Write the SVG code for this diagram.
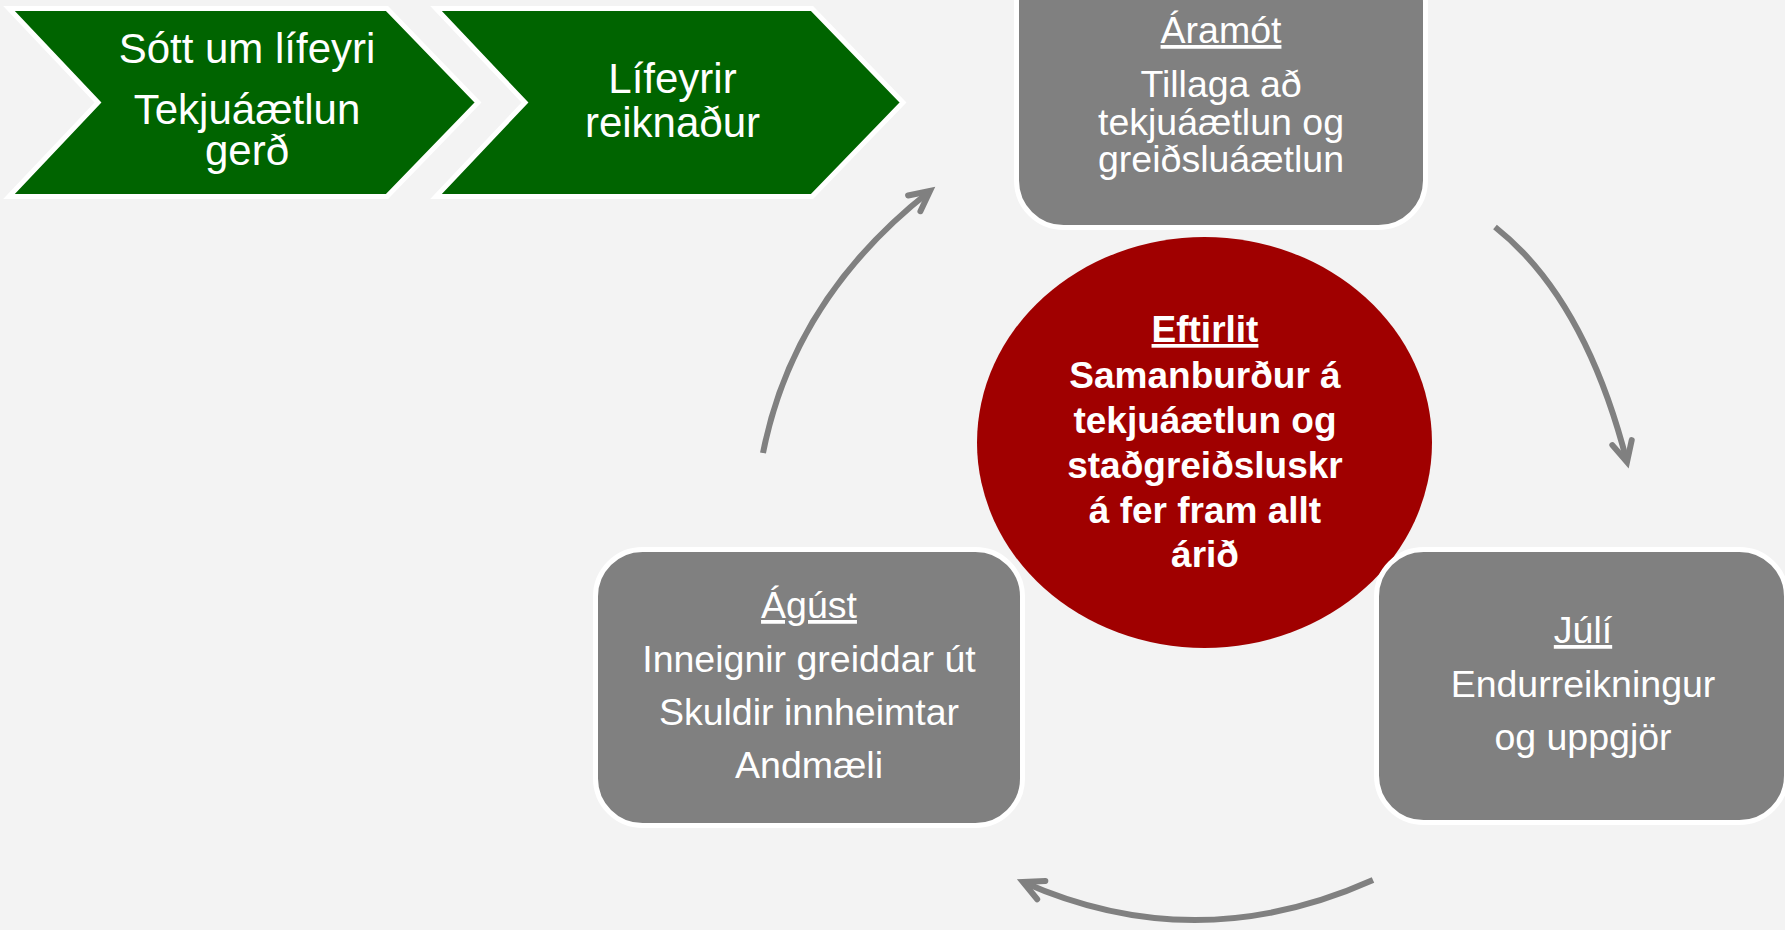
<svg xmlns="http://www.w3.org/2000/svg" width="1785" height="930" viewBox="0 0 1785 930">
  <style>
    text { font-family: "Liberation Sans", Arial, sans-serif; fill: #FFFFFF; text-anchor: middle; }
    .chev { fill: #006400; stroke: #FFFFFF; stroke-width: 5; stroke-linejoin: miter; }
    .box { fill: #808080; stroke: #FFFFFF; stroke-width: 5; }
    .ct { font-size: 42px; }
    .bt { font-size: 37.5px; }
    .ht { font-size: 37.5px; text-decoration: underline; }
    .circ { font-size: 37px; font-weight: bold; }
    .arc { fill: none; stroke: #808080; stroke-width: 6; marker-end: url(#ah); }
  </style>
  <defs>
    <marker id="ah" markerUnits="userSpaceOnUse" markerWidth="40" markerHeight="40" viewBox="-30 -20 40 40" refX="0" refY="0" orient="auto" overflow="visible">
      <path d="M-20,-10 L0,0 L-20,10" fill="none" stroke="#808080" stroke-width="6" stroke-linecap="round" stroke-linejoin="miter"/>
    </marker>
  </defs>
  <rect x="0" y="0" width="1785" height="930" fill="#F3F3F3"/>

  <g id="chevron-sott">
    <polygon class="chev" points="9,8.5 387,8.5 478,102.5 387,196.5 9,196.5 98,102.5"/>
    <text class="ct" x="247" y="63">Sótt um lífeyri</text>
    <text class="ct" x="247" y="124">Tekjuáætlun</text>
    <text class="ct" x="247" y="165">gerð</text>
  </g>

  <g id="chevron-lifeyrir">
    <polygon class="chev" points="436,8.5 812,8.5 903,102.5 812,196.5 436,196.5 525,102.5"/>
    <text class="ct" x="672.5" y="93">Lífeyrir</text>
    <text class="ct" x="672.5" y="137">reiknaður</text>
  </g>

  <g id="connectors">
    <path class="arc" d="M763,453 Q793.5,298 930,191"/>
    <path class="arc" d="M1495,227 Q1585,298 1627,462"/>
    <path class="arc" d="M1373,880 Q1196,959 1023,882"/>
  </g>

  <g id="node-aramot">
    <rect class="box" x="1016.5" y="-45" width="409" height="272.5" rx="47" ry="47"/>
    <text class="ht" x="1221" y="43">Áramót</text>
    <text class="bt" x="1221" y="97">Tillaga að</text>
    <text class="bt" x="1221" y="135">tekjuáætlun og</text>
    <text class="bt" x="1221" y="172">greiðsluáætlun</text>
  </g>

  <g id="node-eftirlit">
    <ellipse cx="1204.5" cy="442.5" rx="227.5" ry="205.5" fill="#A00000"/>
    <text class="circ" x="1205" y="342" text-decoration="underline">Eftirlit</text>
    <text class="circ" x="1205" y="388">Samanburður á</text>
    <text class="circ" x="1205" y="433">tekjuáætlun og</text>
    <text class="circ" x="1205" y="478">staðgreiðsluskr</text>
    <text class="circ" x="1205" y="523">á fer fram allt</text>
    <text class="circ" x="1205" y="567">árið</text>
  </g>

  <g id="node-agust">
    <rect class="box" x="595.5" y="549.5" width="427" height="276" rx="47" ry="47"/>
    <text class="ht" x="809" y="618">Ágúst</text>
    <text class="bt" x="809" y="672">Inneignir greiddar út</text>
    <text class="bt" x="809" y="725">Skuldir innheimtar</text>
    <text class="bt" x="809" y="778">Andmæli</text>
  </g>

  <g id="node-juli">
    <rect class="box" x="1376.5" y="549.5" width="410" height="273" rx="47" ry="47"/>
    <text class="ht" x="1583" y="643">Júlí</text>
    <text class="bt" x="1583" y="697">Endurreikningur</text>
    <text class="bt" x="1583" y="750">og uppgjör</text>
  </g>
</svg>
